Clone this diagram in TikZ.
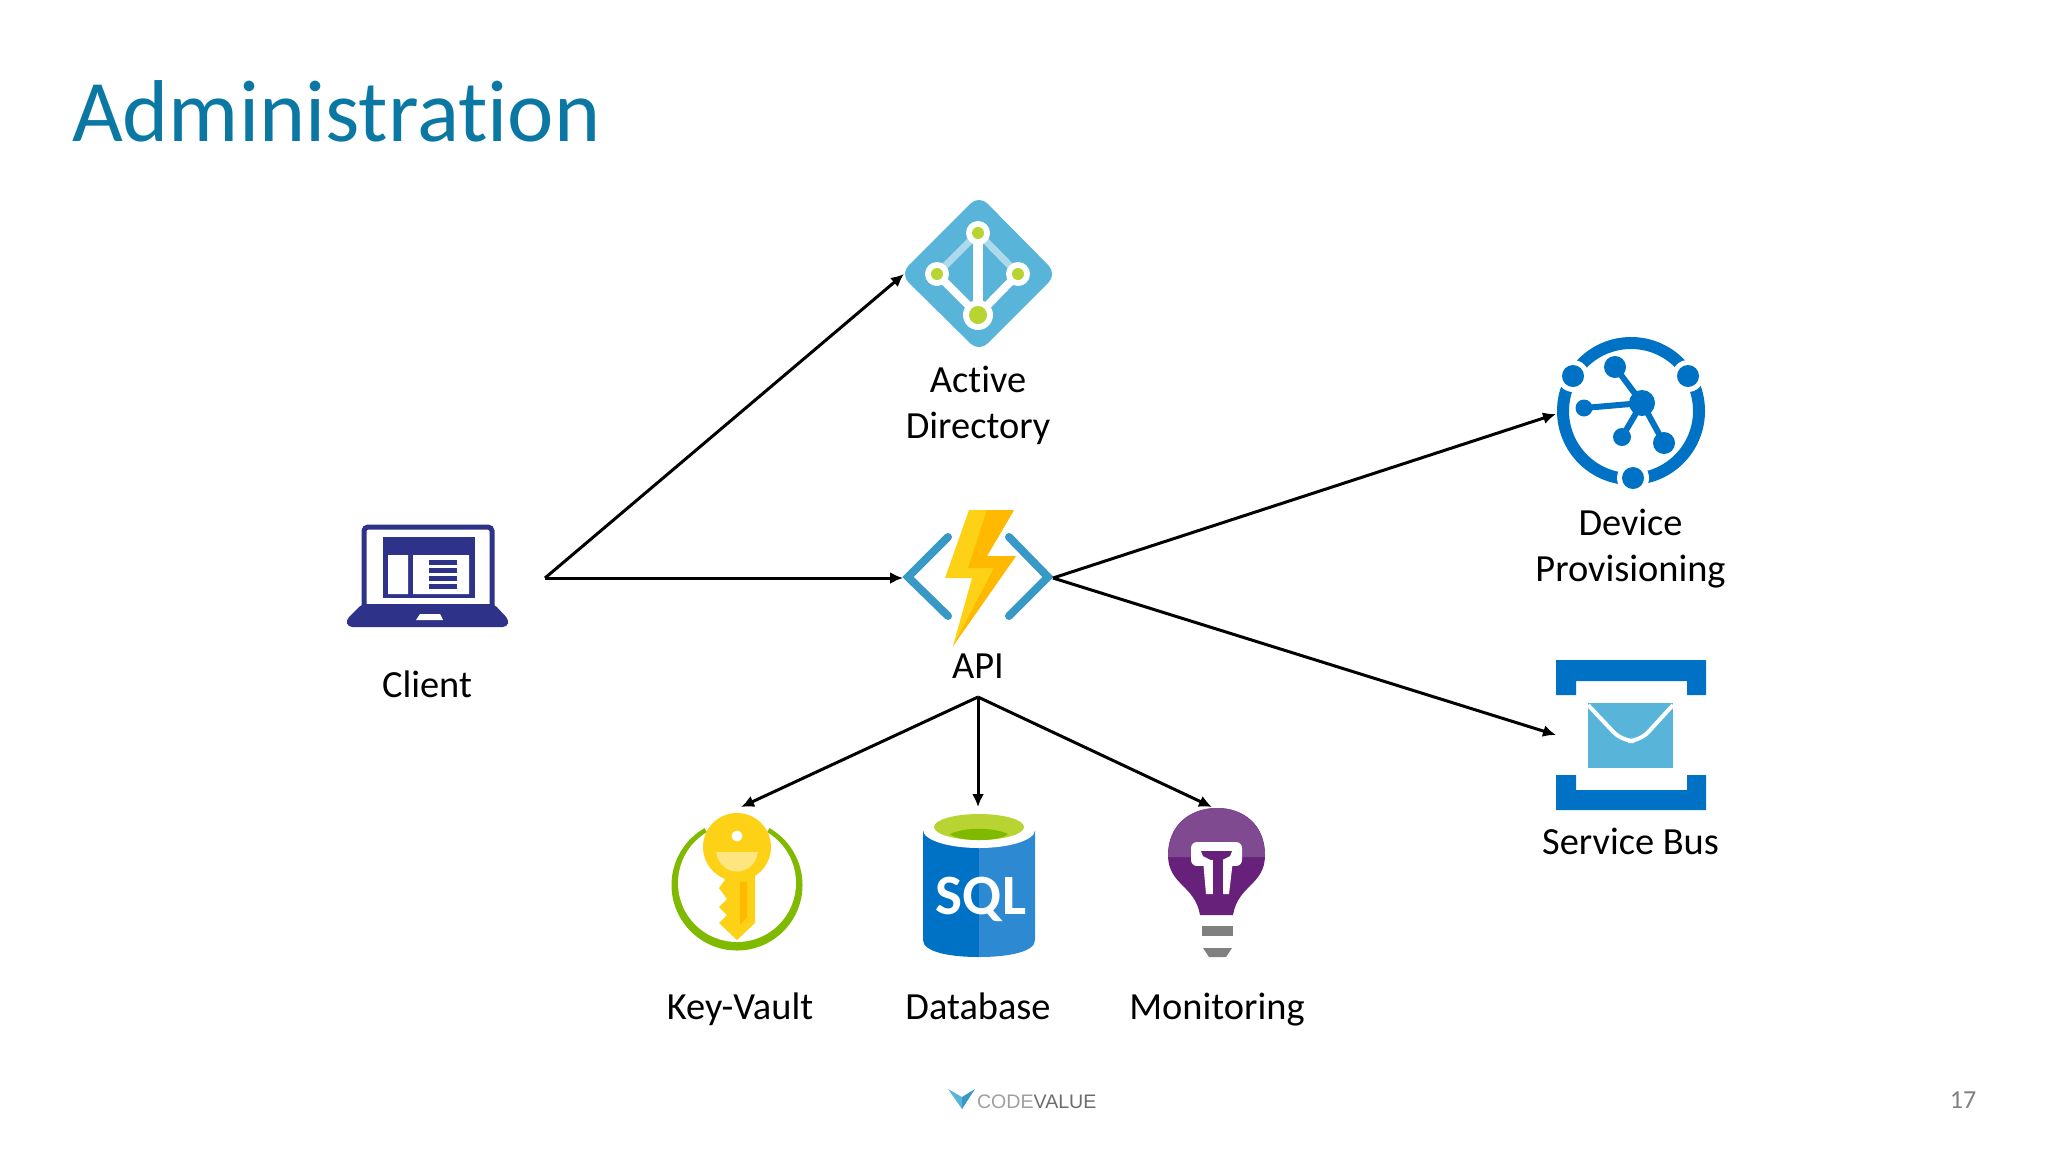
\documentclass[tikz,border=0pt]{standalone}
\usepackage{xcolor}
\usepackage{fontspec}
\usetikzlibrary{arrows.meta}
\setmainfont[RawFeature={-liga}]{Carlito}
\newfontfamily\logofont{Liberation Sans}
\definecolor{titleblue}{HTML}{0A78A3}
\definecolor{azure}{HTML}{59B4D9}
\definecolor{azuredeep}{HTML}{0072C6}
\definecolor{azuremid}{HTML}{2D89D2}
\definecolor{chevblue}{HTML}{3999C6}
\definecolor{lime}{HTML}{B8D432}
\definecolor{ringgreen}{HTML}{7FBA00}
\definecolor{boltyellow}{HTML}{FCD116}
\definecolor{boltdeep}{HTML}{FFB900}
\definecolor{laptopblue}{HTML}{2E3288}
\definecolor{bulbdark}{HTML}{68217A}
\definecolor{bulblight}{HTML}{7F4A90}

\begin{document}
\begin{tikzpicture}[x=0.5pt, y=-0.5pt,
    every node/.style={align=center, inner sep=0pt, outer sep=0pt},
    icon/.style={minimum size=75pt},
    label/.style={font=\fontsize{19.2}{23}\selectfont, text=black},
    rowlabel/.style={label, anchor=base},
    link/.style={-{Latex[length=6.5pt, width=6pt]}, line width=1.5pt, black}]
    \useasboundingbox (0,0) rectangle (2048,1152);

    % Title and footer
    \node[anchor=base west, font=\fontsize{43.9}{50}\selectfont, text=titleblue] (title) at (72,141) {Administration};
    \node[font=\fontsize{13}{15}\selectfont, text=gray] (pagenum) at (1963,1100) {17};
    \fill[azure] (948,1089) -- (962,1097) -- (962,1109) -- cycle;
    \fill[chevblue] (975,1089) -- (962,1097) -- (962,1109) -- cycle;
    \node[anchor=west, font=\logofont\fontsize{9.8}{12}\selectfont] (logo) at (977,1102) {\textcolor{gray!75}{CODE}\textcolor{gray!85!black}{VALUE}};

    % Client laptop
    \draw[laptopblue, line width=2.5pt, fill=white, rounded corners=2pt] (364,606) -- (364,527) -- (492,527) -- (492,606);
    \fill[laptopblue, rounded corners=2pt] (362,604) -- (494,604) -- (509,620) -- (507,627) -- (348,627) -- (346,620) -- cycle;
    \fill[white] (416,620) -- (420,614) -- (440,614) -- (443,620) -- cycle;
    \fill[laptopblue] (383,537) rectangle (475,598);
    \fill[white] (388,555) rectangle (408,594) (413,555) rectangle (469,594);
    \foreach \bary in {560,568,576,584}
        \fill[laptopblue] (429,\bary) rectangle (457,\bary+5);

    % Active Directory diamond
    \fill[azure, rounded corners=6pt] (979,195) -- (1057,274) -- (979,352) -- (900,274) -- cycle;
    \draw[azure!50!white, line width=3.5pt] (937,274) -- (978,233) -- (1018,274);
    \draw[white, line width=4pt] (937,274) -- (978,315) -- (1018,274);
    \draw[white, line width=5pt] (978,233) -- (978,315);
    \foreach \dotx/\doty/\dotr in {978/233/12, 937/274/12, 1018/274/12, 978/315/15} {
        \fill[white] (\dotx,\doty) circle[radius=\dotr];
        \fill[lime] (\dotx,\doty) circle[radius=\dotr-6];
    }

    % Function bolt with chevrons
    \draw[chevblue, line width=4pt, line cap=round] (948,537) -- (908,577) -- (948,616);
    \draw[chevblue, line width=4pt, line cap=round] (1009,537) -- (1048,577) -- (1009,616);
    \fill[boltyellow] (969,510) -- (1014,510) -- (987,556) -- (1016,556) -- (953,646) -- (972,578) -- (945,578) -- cycle;
    \fill[boltdeep] (987,510) -- (1014,510) -- (987,556) -- (1016,556) -- (994,568) -- (968,568) -- cycle;
    \fill[boltdeep] (994,568) -- (1016,556) -- (953,646) -- cycle;

    % Device provisioning
    \draw[azuredeep, line width=6pt] (1631,411) circle[radius=68];
    \foreach \dotx/\doty in {1573/376, 1688/376, 1633/478} {
        \fill[white] (\dotx,\doty) circle[radius=16];
        \fill[azuredeep] (\dotx,\doty) circle[radius=11];
    }
    \foreach \dotx/\doty/\dotr in {1615/367/11, 1584/408/8.5, 1622/437/9, 1664/443/11} {
        \draw[azuredeep, line width=3pt] (1642,403) -- (\dotx,\doty);
        \fill[azuredeep] (\dotx,\doty) circle[radius=\dotr];
    }
    \fill[azuredeep] (1642,403) circle[radius=13];

    % Service bus envelope
    \fill[azuredeep] (1556,660) -- (1706,660) -- (1706,695) -- (1687,695) -- (1687,681) -- (1576,681) -- (1576,695) -- (1556,695) -- cycle;
    \fill[azuredeep] (1556,810) -- (1706,810) -- (1706,775) -- (1687,775) -- (1687,790) -- (1576,790) -- (1576,775) -- (1556,775) -- cycle;
    \fill[azure] (1588,703) rectangle (1673,768);
    \draw[white, line width=2pt, rounded corners=6pt] (1588,705) -- (1622,741) -- (1640,741) -- (1673,705);

    % Key vault
    \fill[ringgreen] (737,885) circle[radius=65.5];
    \fill[white] (737,883) circle[radius=59];
    \fill[white] (737,885) -- (699,818) -- (775,818) -- cycle;
    \fill[boltyellow] (737,847) circle[radius=34];
    \fill[white] (737,836) circle[radius=5.5];
    \fill[boltyellow!55!white] (716,852) .. controls (720,878) and (754,878) .. (758,852) -- cycle;
    \fill[boltyellow] (722,875) -- (755,875) -- (755,923) -- (737,940) -- (719,923) -- (727,915) -- (719,907) -- (727,899) -- (719,888) -- (725,880) -- cycle;
    \fill[boltdeep] (740,882) -- (747,882) -- (747,917) -- (740,925) -- cycle;

    % SQL database
    \fill[azuredeep] (923,830) -- (979,830) -- (979,957) .. controls (950,957) and (923,952) .. (923,940) -- cycle;
    \fill[azuremid] (979,830) -- (1035,830) -- (1035,940) .. controls (1035,952) and (1008,957) .. (979,957) -- cycle;
    \fill[white] (979,830) ellipse[x radius=56, y radius=18];
    \fill[lime] (979,827) ellipse[x radius=45, y radius=13];
    \fill[ringgreen] (979,840) .. controls (955,840) and (950,834) .. (950,834) .. controls (965,827) and (993,827) .. (1008,834) .. controls (1008,834) and (1003,840) .. (979,840) -- cycle;
    \node[font=\bfseries\fontsize{28.5}{30}\selectfont, text=white] (sql) at (981,899) {SQL};

    % Monitoring bulb
    \fill[bulbdark] (1200,915) .. controls (1195,885) and (1168,885) .. (1168,855) .. controls (1168,825) and (1190,808) .. (1217,808) .. controls (1244,808) and (1265,825) .. (1265,855) .. controls (1265,885) and (1238,885) .. (1233,915) -- cycle;
    \fill[bulblight] (1168,857) .. controls (1168,825) and (1190,808) .. (1217,808) .. controls (1244,808) and (1265,825) .. (1265,857) -- cycle;
    \fill[white, rounded corners=3pt] (1191,842) rectangle (1242,866);
    \fill[bulbdark] (1201,851) -- (1232,851) -- (1230,856) -- (1222,860) -- (1211,860) -- (1203,856) -- cycle;
    \fill[white] (1203,860) -- (1213,860) -- (1213,894) -- (1206,894) -- cycle;
    \fill[white] (1223,860) -- (1233,860) -- (1229,894) -- (1223,894) -- cycle;
    \fill[bulbdark] (1191,866) rectangle (1203,870) (1233,866) rectangle (1242,870);
    \fill[bulbdark] (1213,860) rectangle (1223,894);
    \fill[gray] (1202,926) rectangle (1233,936);
    \fill[gray] (1203,948) -- (1232,948) -- (1226,957) -- (1209,957) -- cycle;

    % Icon boxes the arrows run between
    \node[icon] (client) at (427,578) {};
    \node[icon] (directory) at (979,274) {};
    \node[icon] (api) at (978,578) {};
    \node[icon] (device) at (1631,414) {};
    \node[icon] (servicebus) at (1631,735) {};
    \node[icon] (keyvault) at (741,882) {};
    \node[icon] (database) at (978,882) {};
    \node[icon] (monitoring) at (1212,882) {};
    \coordinate (clientout) at (545,578);
    \coordinate (apiout) at (978,697);

    % Labels
    \node[rowlabel] (clientlabel) at (427,697) {Client};
    \node[label] (directorylabel) at (978,405.5) {Active\\Directory};
    \node[rowlabel] (apilabel) at (978,678) {API};
    \node[label] (devicelabel) at (1630.5,549) {Device\\Provisioning};
    \node[rowlabel] (servicebuslabel) at (1630.5,854) {Service Bus};
    \node[rowlabel] (keyvaultlabel) at (740,1019) {Key-Vault};
    \node[rowlabel] (databaselabel) at (978,1019) {Database};
    \node[rowlabel] (monitoringlabel) at (1217,1019) {Monitoring};

    % Arrows
    \draw[link] (clientout) -- (directory.west);
    \draw[link] (clientout) -- (api.west);
    \draw[link] (api.east) -- (device.west);
    \draw[link] (api.east) -- (servicebus.west);
    \draw[link] (apiout) -- (keyvault.north);
    \draw[link] (apiout) -- (database.north);
    \draw[link] (apiout) -- (monitoring.north);
\end{tikzpicture}
\end{document}
